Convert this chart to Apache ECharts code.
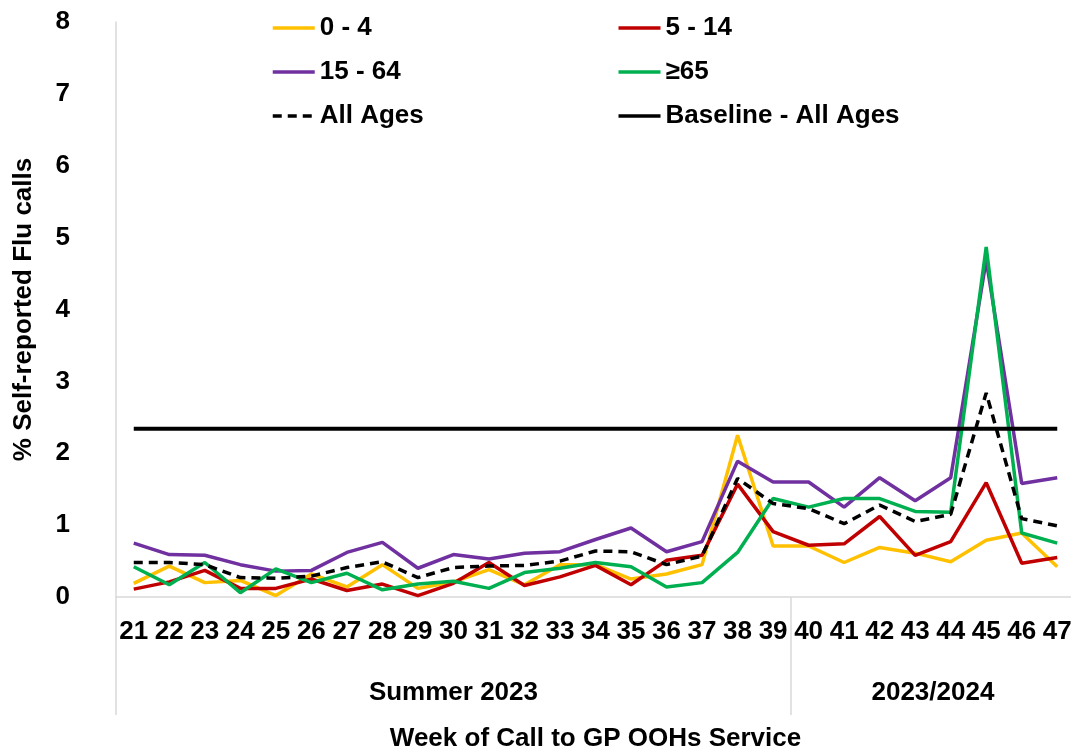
<!DOCTYPE html>
<html>
<head>
<meta charset="utf-8">
<script src="https://cdn.jsdelivr.net/npm/echarts@6/dist/echarts.min.js"></script>
<style>
html,body{margin:0;padding:0;background:#fff;}
#chart{width:1071px;height:751px;}
</style>
</head>
<body>
<div id="chart"></div>
<script>
// ---- data ----
const weeks = ['21','22','23','24','25','26','27','28','29','30','31','32','33','34','35','36','37','38','39','40','41','42','43','44','45','46','47'];
const groupNames = ['Summer 2023', '2023/2024'];
const groupSizes = [19, 8];
const yTicks = [0,1,2,3,4,5,6,7,8];

const age0_4   = [0.19,0.43,0.20,0.23,0.02,0.32,0.14,0.45,0.12,0.21,0.38,0.17,0.45,0.45,0.25,0.32,0.45,2.25,0.71,0.71,0.48,0.69,0.61,0.49,0.79,0.89,0.42];
const age5_14  = [0.11,0.21,0.37,0.12,0.12,0.25,0.09,0.18,0.02,0.19,0.48,0.16,0.28,0.44,0.17,0.51,0.58,1.57,0.91,0.72,0.74,1.12,0.58,0.77,1.59,0.47,0.55];
const age15_64 = [0.75,0.59,0.58,0.45,0.36,0.37,0.62,0.76,0.40,0.59,0.53,0.61,0.63,0.80,0.96,0.63,0.77,1.89,1.60,1.60,1.25,1.66,1.34,1.66,4.69,1.58,1.66];
const age65    = [0.42,0.17,0.48,0.06,0.39,0.20,0.33,0.10,0.18,0.22,0.12,0.34,0.40,0.48,0.42,0.14,0.20,0.62,1.37,1.25,1.37,1.37,1.19,1.18,4.87,0.89,0.75];
const allAges  = [0.48,0.48,0.45,0.27,0.26,0.29,0.41,0.49,0.27,0.41,0.43,0.44,0.50,0.64,0.63,0.45,0.57,1.65,1.30,1.23,1.02,1.28,1.05,1.15,2.84,1.09,0.99];
const baselineValue = 2.34;
const baseline = weeks.map(() => baselineValue);

// group boundaries / centres (in category index units)
const groupBounds = [];
const groupCentres = [];
let start = 0;
groupSizes.forEach(s => { groupBounds.push(start - 0.5); groupCentres.push(start + (s - 1) / 2); start += s; });

const FONT = 'Liberation Sans, Arial, sans-serif';
const txt = {color:'#000', fontFamily: FONT, fontWeight:'bold', fontSize:26};

function line(name, data, color, extra) {
  return Object.assign({
    name, type:'line', data, symbol:'none', smooth:false,
    xAxisIndex:0, yAxisIndex:0,
    lineStyle:{color, width:3.5},
    itemStyle:{color},
    emphasis:{disabled:true}
  }, extra || {});
}

const chart = echarts.init(document.getElementById('chart'), null, {renderer:'canvas'});
chart.setOption({
  animation:false,
  backgroundColor:'#fff',
  grid:{left:116, top:22, width:959, height:575, containLabel:false, outerBoundsMode:'none'},
  legend:{
    left:271, top:11, width:700, padding:0,
    itemWidth:42, itemHeight:14, itemGap:10,
    itemStyle:{opacity:0},
    lineStyle:{width:3.5},
    textStyle:Object.assign({}, txt, {width:287, lineHeight:34}),
    data:['0 - 4','5 - 14','15 - 64','≥65','All Ages','Baseline - All Ages']
  },
  xAxis:[
    {
      type:'category', data:weeks, boundaryGap:true,
      axisLine:{lineStyle:{color:'#d9d9d9', width:1.5}},
      axisTick:{show:false},
      splitLine:{show:false},
      axisLabel:Object.assign({}, txt, {interval:0, margin:22})
    },
    {
      type:'value', min:-0.5, max:26.5, position:'bottom',
      axisLine:{show:false}, splitLine:{show:false},
      axisTick:{show:true, customValues:groupBounds, length:118, lineStyle:{color:'#d9d9d9', width:1.5}},
      axisLabel:Object.assign({}, txt, {
        customValues:groupCentres, margin:83,
        formatter:(v) => { const i = groupCentres.findIndex(c => Math.abs(c - v) < 1e-6); return i >= 0 ? groupNames[i] : ''; }
      }),
      name:'Week of Call to GP OOHs Service', nameLocation:'middle', nameGap:129,
      nameTextStyle:txt
    }
  ],
  yAxis:{
    type:'value', min:yTicks[0], max:yTicks[yTicks.length-1], interval:1,
    axisLine:{show:true, onZero:false, lineStyle:{color:'#d9d9d9', width:1.5}},
    axisTick:{show:false}, splitLine:{show:false},
    axisLabel:Object.assign({}, txt, {margin:46}),
    name:'% Self-reported Flu calls', nameLocation:'middle', nameGap:79,
    nameTextStyle:txt
  },
  series:[
    line('0 - 4', age0_4, '#FFC000'),
    line('5 - 14', age5_14, '#C00000'),
    line('15 - 64', age15_64, '#7030A0'),
    line('≥65', age65, '#00B050'),
    line('All Ages', allAges, '#000000', {lineStyle:{color:'#000', width:3.5, type:[9,6]}}),
    line('Baseline - All Ages', baseline, '#000000', {lineStyle:{color:'#000', width:4}})
  ]
});
</script>
</body>
</html>
